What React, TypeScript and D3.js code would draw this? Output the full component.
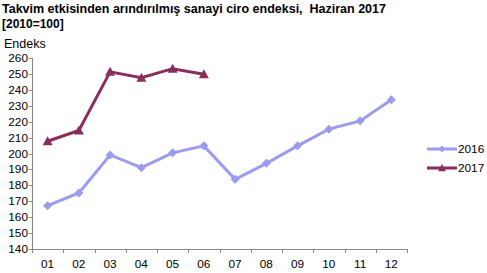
import React from "react";
import * as d3 from "d3";

const months = ["01","02","03","04","05","06","07","08","09","10","11","12"];
const values2016 = [167.2, 175.2, 199.1, 191.1, 200.4, 204.8, 183.8, 193.8, 204.8, 215.3, 220.5, 233.7];
const values2017 = [207.7, 214.5, 251.3, 247.6, 253.3, 249.8];
const yTicks = [140,150,160,170,180,190,200,210,220,230,240,250,260];

const W = 487, H = 273;
const left = 32, right = 407, top = 58, bottom = 249;

export default function App() {
  const x = d3.scaleBand<string>().domain(months).range([left, right]);
  const y = d3.scaleLinear().domain([140, 260]).range([bottom, top]);
  const cx = (m: string) => (x(m) as number) + x.bandwidth() / 2;
  const line = d3.line<number>().x((_, i) => cx(months[i])).y(d => y(d));
  const c16 = "#9b9bef";
  const c17 = "#8a2e5e";
  const font = "Arial, 'Liberation Sans', sans-serif";
  const diamond = (px: number, py: number, r = 4.5) => `M${px},${py - r}L${px + r},${py}L${px},${py + r}L${px - r},${py}Z`;
  const tri = (px: number, py: number, r = 5) => `M${px},${py - r}L${px + r},${py + r * 0.8}L${px - r},${py + r * 0.8}Z`;
  const ticksX = months.map(m => x(m) as number).concat([right]);
  return (
    <svg width={W} height={H} style={{ position: "absolute", left: 0, top: 0, background: "#fff" }} fontFamily={font}>
      <text x={2} y={13} fontSize={12.5} fontWeight="bold" fill="#000" style={{ whiteSpace: "pre" }}>Takvim etkisinden arındırılmış sanayi ciro endeksi,  Haziran 2017</text>
      <text x={2} y={28} fontSize={12} fontWeight="bold" fill="#000">[2010=100]</text>
      <text x={4} y={48} fontSize={12.5} fill="#000">Endeks</text>
      {/* y axis */}
      <line x1={left + 0.5} x2={left + 0.5} y1={top} y2={bottom} stroke="#888" />
      {yTicks.map(t => (
        <g key={t}>
          <line x1={left - 3} x2={left} y1={Math.round(y(t)) + 0.5} y2={Math.round(y(t)) + 0.5} stroke="#888" />
          <text x={28} y={y(t) + 4} fontSize={11.8} textAnchor="end" fill="#000">{t}</text>
        </g>
      ))}
      {/* x axis */}
      <line x1={left} x2={right} y1={bottom + 0.5} y2={bottom + 0.5} stroke="#888" />
      {ticksX.map((tx, i) => (
        <line key={i} x1={Math.round(tx) + 0.5} x2={Math.round(tx) + 0.5} y1={bottom} y2={bottom + 4} stroke="#888" />
      ))}
      {months.map(m => (
        <text key={m} x={cx(m)} y={268} fontSize={11.8} textAnchor="middle" fill="#000">{m}</text>
      ))}
      {/* series */}
      <path d={line(values2016) || ""} fill="none" stroke={c16} strokeWidth={3} />
      {values2016.map((v, i) => <path key={i} d={diamond(cx(months[i]), y(v))} fill={c16} />)}
      <path d={line(values2017) || ""} fill="none" stroke={c17} strokeWidth={3} />
      {values2017.map((v, i) => <path key={i} d={tri(cx(months[i]), y(v))} fill={c17} />)}
      {/* legend */}
      <line x1={427} x2={457} y1={149} y2={149} stroke={c16} strokeWidth={3} />
      <path d={diamond(442, 149, 3.5)} fill={c16} />
      <text x={458} y={153} fontSize={11.8} fill="#000">2016</text>
      <line x1={427} x2={457} y1={168} y2={168} stroke={c17} strokeWidth={3} />
      <path d={tri(442, 168, 4)} fill={c17} />
      <text x={458} y={172} fontSize={11.8} fill="#000">2017</text>
    </svg>
  );
}
